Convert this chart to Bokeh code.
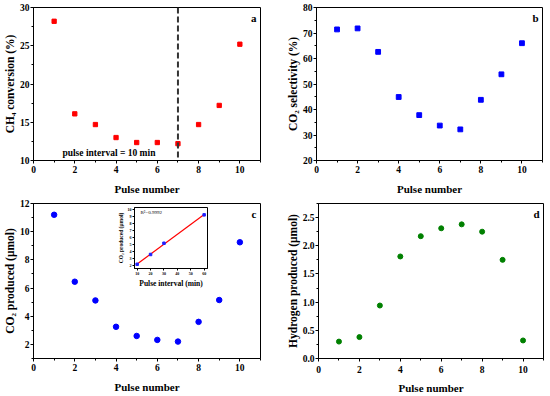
import numpy as np
from bokeh.plotting import figure
from bokeh.layouts import column, row
from bokeh.models import Range1d, SingleIntervalTicker, Span, Label, NumeralTickFormatter
from bokeh.embed import file_html
from bokeh.resources import INLINE

# ---------------- data ----------------
pulse = [1, 2, 3, 4, 5, 6, 7, 8, 9, 10]
ch4_conversion = [28.2, 16.1, 14.7, 13.0, 12.35, 12.35, 12.2, 14.7, 17.2, 25.2]
co2_selectivity = [71.4, 71.8, 62.6, 44.9, 37.8, 33.7, 32.2, 43.8, 53.8, 66.0]
co2_produced = [11.2, 6.45, 5.12, 3.25, 2.6, 2.32, 2.2, 3.6, 5.15, 9.25]
hydrogen_produced = [0.30, 0.38, 0.94, 1.81, 2.17, 2.31, 2.38, 2.25, 1.75, 0.32]
inset_interval = [10, 20, 30, 60]
inset_co2 = [2.2, 3.6, 5.2, 9.25]
switch_pulse = 7

FONT = "Liberation Serif"


def style(p, xlabel, ylabel, xint, yint, fmt=None, tick_size="9.5px",
          xsize="11px", ysize="11.5px"):
    p.toolbar_location = None
    p.grid.visible = False
    p.outline_line_color = "black"
    p.outline_line_width = 1
    p.background_fill_color = "white"
    p.border_fill_color = "white"
    p.xaxis.ticker = SingleIntervalTicker(interval=xint, num_minor_ticks=2)
    p.yaxis.ticker = SingleIntervalTicker(interval=yint, num_minor_ticks=2)
    p.xaxis.axis_label = xlabel
    p.yaxis.axis_label = ylabel
    for ax in (p.xaxis, p.yaxis):
        ax.axis_line_color = "black"
        ax.major_tick_line_color = "black"
        ax.minor_tick_line_color = "black"
        ax.major_tick_in = 0
        ax.major_tick_out = 3
        ax.minor_tick_in = 0
        ax.minor_tick_out = 2
        ax.major_label_text_font = FONT
        ax.major_label_text_font_style = "bold"
        ax.major_label_text_font_size = tick_size
        ax.major_label_text_color = "black"
        ax.major_label_text_line_height = 1.0
        ax.axis_label_text_font = FONT
        ax.axis_label_text_font_style = "bold"
        ax.axis_label_text_color = "black"
        ax.axis_label_text_line_height = 1.0
    p.xaxis.major_label_standoff = 2
    p.xaxis.axis_label_standoff = 7
    p.yaxis.major_label_standoff = 1
    p.yaxis.axis_label_standoff = 1
    p.xaxis.axis_label_text_font_size = xsize
    p.yaxis.axis_label_text_font_size = ysize
    if fmt is not None:
        p.yaxis.formatter = NumeralTickFormatter(format=fmt)


def panel_letter(p, letter, xr, yr):
    p.add_layout(Label(x=xr.end, y=yr.end, text=letter, x_offset=-4, y_offset=-4,
                       text_align="right", text_baseline="top", text_font=FONT,
                       text_font_style="bold", text_font_size="11px", text_color="black"))


# ---------------- panel a ----------------
xa, ya = Range1d(0, 11), Range1d(10, 30)
pa = figure(width=280, height=197, x_range=xa, y_range=ya, output_backend="svg",
            toolbar_location=None, min_border_left=30, min_border_right=20,
            min_border_top=7, min_border_bottom=31)
style(pa, "Pulse number", "CH₄ conversion (%)", 2, 5)
pa.scatter(pulse, ch4_conversion, marker="square", size=4.3, color="#ff0000")
pa.add_layout(Span(location=switch_pulse, dimension="height", line_color="#333333",
                   line_dash="6 3", line_width=2))
pa.add_layout(Label(x=1.4, y=10.3, text="pulse interval = 10 min", text_font=FONT,
                    text_font_style="bold", text_font_size="9.5px", text_color="black",
                    text_baseline="bottom"))
panel_letter(pa, "a", xa, ya)

# ---------------- panel b ----------------
xb, yb = Range1d(0, 11), Range1d(20, 80)
pb = figure(width=270, height=197, x_range=xb, y_range=yb, output_backend="svg",
            toolbar_location=None, min_border_left=36, min_border_right=8,
            min_border_top=7, min_border_bottom=30)
style(pb, "Pulse number", "CO₂ selectivity (%)", 2, 10)
pb.scatter(pulse, co2_selectivity, marker="square", size=4.8, color="#0000ff")
panel_letter(pb, "b", xb, yb)

# ---------------- panel c ----------------
xc, yc = Range1d(0, 11), Range1d(1, 12)
pc = figure(width=280, height=199, x_range=xc, y_range=yc, output_backend="svg",
            toolbar_location=None, min_border_left=30, min_border_right=20,
            min_border_top=6, min_border_bottom=31)
style(pc, "Pulse number", "CO₂ produced (μmol)", 2, 2)
pc.scatter(pulse, co2_produced, marker="circle", size=5.5, color="#0000ff")
panel_letter(pc, "c", xc, yc)

# ---------------- panel d ----------------
xd, yd = Range1d(0, 11), Range1d(0, 2.75)
pd = figure(width=270, height=199, x_range=xd, y_range=yd, output_backend="svg",
            toolbar_location=None, min_border_left=38, min_border_right=7,
            min_border_top=0, min_border_bottom=34)
style(pd, "Pulse number", "Hydrogen produced (μmol)", 2, 0.5, fmt="0.0")
pd.xaxis.major_label_standoff = 4
pd.xaxis.axis_label_standoff = 6
pd.scatter(pulse, hydrogen_produced, marker="circle", size=5, color="#008000")
panel_letter(pd, "d", xd, yd)

# ---------------- inset in panel c ----------------
xi, yi = Range1d(8, 62.5), Range1d(1.6, 10.3)
pi = figure(width=94, height=84, x_range=xi, y_range=yi, output_backend="svg",
            toolbar_location=None, min_border_left=13, min_border_right=1,
            min_border_top=1, min_border_bottom=18)
style(pi, "Pulse interval (min)", "CO₂ produced (μmol)", 10, 1, tick_size="4px",
      xsize="7.5px", ysize="5.5px")
pi.border_fill_alpha = 0
for ax in (pi.xaxis, pi.yaxis):
    ax.major_tick_out = 2
    ax.minor_tick_out = 0
    ax.major_label_standoff = 1
    ax.axis_label_standoff = 1
slope, intercept = np.polyfit(inset_interval, inset_co2, 1)
fit_x = [min(inset_interval), max(inset_interval)]
fit_y = [slope * v + intercept for v in fit_x]
pi.line(fit_x, fit_y, line_color="#ff0000", line_width=1.2)
pi.scatter(inset_interval, inset_co2, marker="square", size=2.5, color="#2020ff")
pi.add_layout(Label(x=xi.start, y=yi.end, text="R²=0.9992", x_offset=6, y_offset=-2,
                    text_baseline="top", text_font=FONT, text_font_size="5px",
                    text_color="black"))
pi.styles = {"position": "absolute", "left": "114px", "top": "206px", "z-index": "10"}

layout = column(row(pa, pb), row(pc, pd), pi, spacing=0)
open("out.html", "w").write(file_html(layout, INLINE))
